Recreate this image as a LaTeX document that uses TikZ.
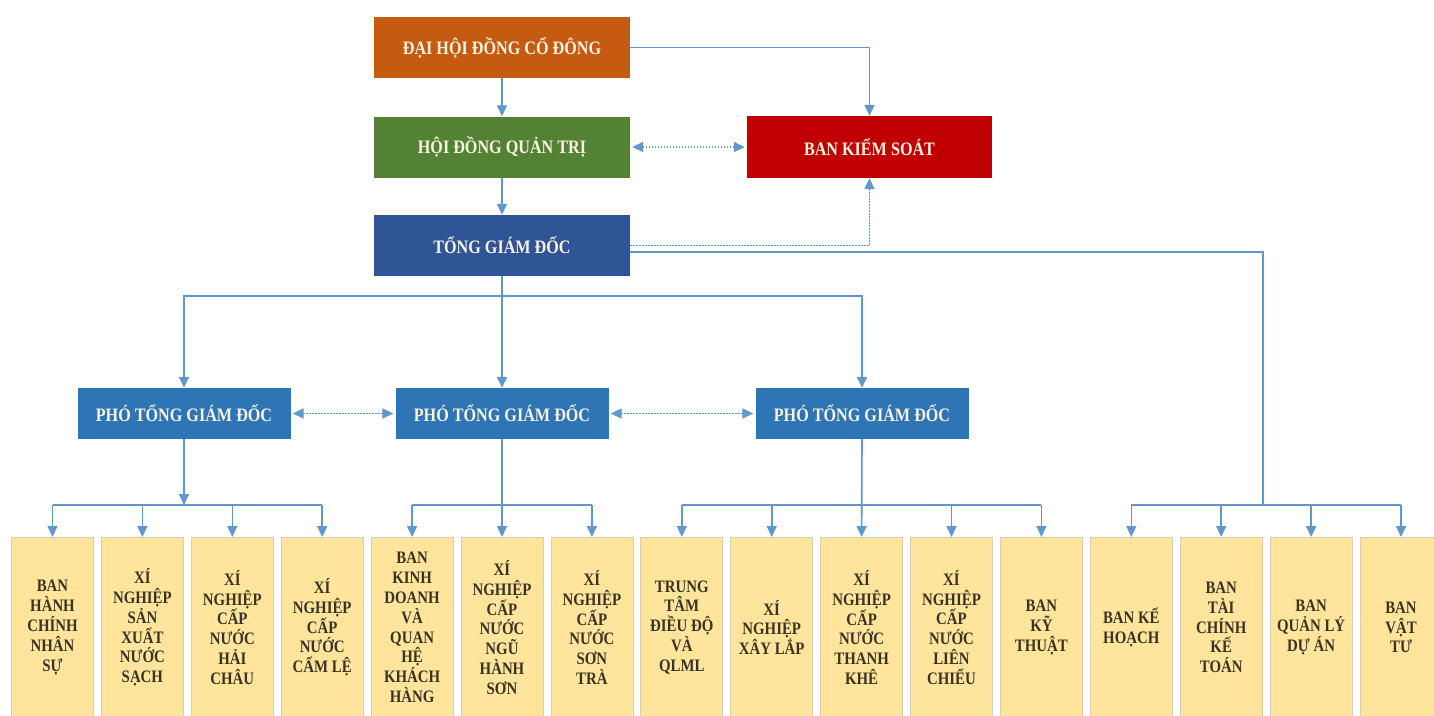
\documentclass[tikz,border=0pt]{standalone}
\usepackage{fontspec}
\setmainfont{Liberation Serif}[FakeStretch=0.85]
\usetikzlibrary{arrows.meta}
\definecolor{orangeb}{RGB}{197,90,17}
\definecolor{greenb}{RGB}{84,130,53}
\definecolor{navyb}{RGB}{47,85,151}
\definecolor{redb}{RGB}{192,0,0}
\definecolor{blueb}{RGB}{46,117,182}
\definecolor{toptext}{RGB}{250,242,225}
\definecolor{unitfill}{RGB}{255,229,155}
\definecolor{unitedge}{RGB}{214,205,180}
\definecolor{unittext}{RGB}{58,50,36}
\definecolor{linec}{RGB}{96,152,206}
\newcommand\topfont{\fontsize{19}{22}\selectfont\bfseries}
\newcommand\unitfont{\fontsize{17.5}{19.8}\selectfont\bfseries}
\tikzset{
  topbox/.style={rectangle, inner sep=0pt, minimum width=256pt, minimum height=61pt, text=toptext, font=\topfont},
  ptbox/.style={rectangle, inner sep=0pt, fill=blueb, minimum width=213pt, minimum height=51pt, text=toptext, font=\topfont},
  unitbox/.style={rectangle, inner sep=0pt, fill=unitfill, draw=unitedge, line width=0.8pt, minimum width=82pt, minimum height=180pt, anchor=north, align=center, text=unittext, font=\unitfont},
  conn/.style={draw=linec, line width=1.6pt},
  arr/.style={conn, -{Triangle[length=11pt,width=10pt]}},
  dotarr/.style={conn, dash pattern=on 1.6pt off 1.4pt, -{Triangle[length=11pt,width=10pt]}},
  ddarr/.style={conn, dash pattern=on 1.6pt off 1.4pt, {Triangle[length=11pt,width=10pt]}-{Triangle[length=11pt,width=10pt]}, shorten <=2pt, shorten >=2pt}
}
\begin{document}
\begin{tikzpicture}[x=1pt,y=-1pt]
\useasboundingbox[fill=white] (0,0) rectangle (1434,715);
% top boxes
\node[topbox, fill=orangeb] (dh) at (502,47.5) {ĐẠI HỘI ĐỒNG CỔ ĐÔNG};
\node[topbox, fill=greenb] (hd) at (502,147) {HỘI ĐỒNG QUẢN TRỊ};
\node[topbox, fill=navyb] (tg) at (502,245.5) {TỔNG GIÁM ĐỐC};
\node[topbox, fill=redb, minimum width=245pt, minimum height=62pt] (ks) at (869.5,147) {BAN KIỂM SOÁT};
% deputy boxes
\node[ptbox] (p1) at (184,413.5) {PHÓ TỔNG GIÁM ĐỐC};
\node[ptbox] (p2) at (502,413.5) {PHÓ TỔNG GIÁM ĐỐC};
\node[ptbox] (p3) at (862,413.5) {PHÓ TỔNG GIÁM ĐỐC};
% unit boxes
\node[unitbox] (b1) at (52.5,537) {BAN\\HÀNH\\CHÍNH\\NHÂN\\SỰ};
\node[unitbox] (b2) at (142.4,537) {XÍ\\NGHIỆP\\SẢN\\XUẤT\\NƯỚC\\SẠCH};
\node[unitbox] (b3) at (232.3,537) {XÍ\\NGHIỆP\\CẤP\\NƯỚC\\HẢI\\CHÂU};
\node[unitbox] (b4) at (322.2,537) {XÍ\\NGHIỆP\\CẤP\\NƯỚC\\CẨM LỆ};
\node[unitbox] (b5) at (412.1,537) {BAN\\KINH\\DOANH\\VÀ\\QUAN\\HỆ\\KHÁCH\\HÀNG};
\node[unitbox] (b6) at (502,537) {XÍ\\NGHIỆP\\CẤP\\NƯỚC\\NGŨ\\HÀNH\\SƠN};
\node[unitbox] (b7) at (591.9,537) {XÍ\\NGHIỆP\\CẤP\\NƯỚC\\SƠN\\TRÀ};
\node[unitbox] (b8) at (681.8,537) {TRUNG\\TÂM\\ĐIỀU ĐỘ\\VÀ\\QLML};
\node[unitbox] (b9) at (771.7,537) {XÍ\\NGHIỆP\\XÂY LẮP};
\node[unitbox] (b10) at (861.6,537) {XÍ\\NGHIỆP\\CẤP\\NƯỚC\\THANH\\KHÊ};
\node[unitbox] (b11) at (951.5,537) {XÍ\\NGHIỆP\\CẤP\\NƯỚC\\LIÊN\\CHIỂU};
\node[unitbox] (b12) at (1041.4,537) {BAN\\KỸ\\THUẬT};
\node[unitbox] (b13) at (1131.3,537) {BAN KẾ\\HOẠCH};
\node[unitbox] (b14) at (1221.2,537) {BAN\\TÀI\\CHÍNH\\KẾ\\TOÁN};
\node[unitbox] (b15) at (1311.1,537) {BAN\\QUẢN LÝ\\DỰ ÁN};
\node[unitbox] (b16) at (1401,537) {BAN\\VẬT\\TƯ};
% helper coordinates
\coordinate (tbus) at (502,296);
\coordinate (bus) at (0,505);
\coordinate (rv) at (1263,252);
% top connectors
\draw[arr] (dh.east) -| (ks.north);
\draw[arr] (dh.south) -- (hd.north);
\draw[ddarr] (hd.east) -- (ks.west);
\draw[arr] (hd.south) -- (tg.north);
\draw[dotarr] (tg.east) -| (ks.south);
\draw[conn] (tg.east |- rv) -- (rv) -- (rv |- bus);
% to deputies
\draw[arr] (tg.south) -- (p2.north);
\draw[arr] (tg.south |- tbus) -| (p1.north);
\draw[arr] (tg.south |- tbus) -| (p3.north);
\draw[ddarr] (p1.east) -- (p2.west);
\draw[ddarr] (p2.east) -- (p3.west);
% group 1
\draw[arr] (p1.south) -- (p1.south |- bus);
\draw[conn] (b1.north |- bus) -- (b4.north |- bus);
\foreach \b in {b1,b2,b3,b4} \draw[arr] (\b.north |- bus) -- (\b.north);
% group 2
\draw[arr] (p2.south) -- (b6.north);
\draw[conn] (b5.north |- bus) -- (b7.north |- bus);
\foreach \b in {b5,b7} \draw[arr] (\b.north |- bus) -- (\b.north);
% group 3
\draw[arr] (p3.south) -- (b10.north);
\draw[conn] (b8.north |- bus) -- (b12.north |- bus);
\foreach \b in {b8,b9,b11,b12} \draw[arr] (\b.north |- bus) -- (\b.north);
% group 4
\draw[conn] (b13.north |- bus) -- (b16.north |- bus);
\foreach \b in {b13,b14,b15,b16} \draw[arr] (\b.north |- bus) -- (\b.north);
\end{tikzpicture}
\end{document}
